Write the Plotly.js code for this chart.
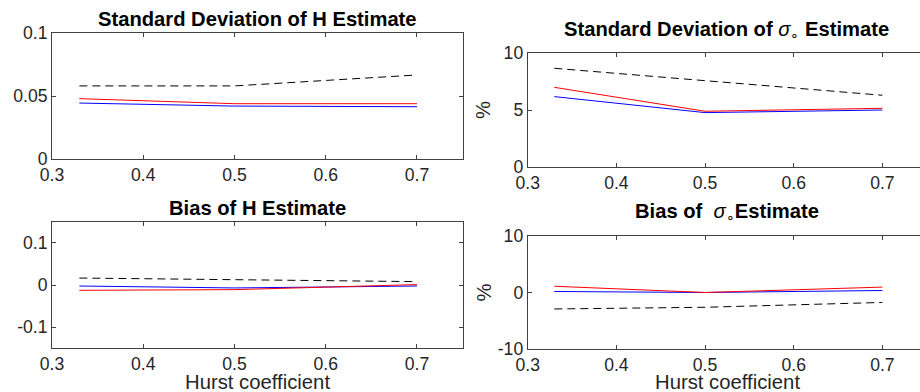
<!DOCTYPE html>
<html><head><meta charset="utf-8">
<script src="https://cdn.plot.ly/plotly-3.0.1.min.js"></script>
<style>html,body{margin:0;padding:0;overflow:hidden;background:#fff}#wrap{width:920px;height:392px;overflow:hidden}#chart{width:930px;height:392px}</style>
</head><body><div id="wrap"><div id="chart"></div></div>
<script>
// Data
const hurst = [0.33, 0.5, 0.7];
const sdH_dashed = [0.058, 0.058, 0.0667];
const sdH_red = [0.0479, 0.0439, 0.0439];
const sdH_blue = [0.0444, 0.0420, 0.0415];
const sdSigma_dashed = [8.68, 7.59, 6.30];
const sdSigma_red = [7.00, 4.89, 5.15];
const sdSigma_blue = [6.18, 4.77, 5.00];
const biasH_dashed = [0.0165, 0.0128, 0.008];
const biasH_red = [-0.0126, -0.011, 0.001];
const biasH_blue = [-0.0024, -0.007, -0.0024];
const biasSigma_dashed = [-2.9, -2.6, -1.75];
const biasSigma_red = [1.1, 0.0, 0.95];
const biasSigma_blue = [0.18, 0.0, 0.35];

const xTickVals = [0.3, 0.4, 0.5, 0.6, 0.7];
const xTickText = ['0.3', '0.4', '0.5', '0.6', '0.7'];
const yTickValsSdH = [0, 0.05, 0.1];
const yTickTextSdH = ['0', '0.05', '0.1'];
const yTickValsSdS = [0, 5, 10];
const yTickTextSdS = ['0', '5', '10'];
const yTickValsBH = [-0.1, 0, 0.1];
const yTickTextBH = ['-0.1', '0', '0.1'];
const yTickValsBS = [-10, 0, 10];
const yTickTextBS = ['-10', '0', '10'];

const W = 930, H = 392;
function dx(a, b) { return [a / W, b / W]; }
function dy(top, bot) { return [1 - bot / H, 1 - top / H]; }

function series(xa, ya, dashed, red, blue) {
  return [
    {x: hurst, y: dashed, xaxis: xa, yaxis: ya, mode: 'lines', line: {color: '#000', width: 1, dash: '8px,5px'}, hoverinfo: 'skip'},
    {x: hurst, y: blue, xaxis: xa, yaxis: ya, mode: 'lines', line: {color: '#0000ff', width: 1}, hoverinfo: 'skip'},
    {x: hurst, y: red, xaxis: xa, yaxis: ya, mode: 'lines', line: {color: '#ff0000', width: 1}, hoverinfo: 'skip'}
  ];
}

const data = [].concat(
  series('x', 'y', sdH_dashed, sdH_red, sdH_blue),
  series('x2', 'y2', sdSigma_dashed, sdSigma_red, sdSigma_blue),
  series('x3', 'y3', biasH_dashed, biasH_red, biasH_blue),
  series('x4', 'y4', biasSigma_dashed, biasSigma_red, biasSigma_blue)
);

const tickFont = {family: 'Liberation Sans, Arial, sans-serif', size: 17.6, color: '#262626'};
function xax(domain, anchor) {
  return {domain: domain, anchor: anchor, range: [0.3, 0.75], tickmode: 'array', tickvals: xTickVals, ticktext: xTickText,
    ticks: 'inside', ticklen: 4, tickcolor: '#404040', showline: true, linecolor: '#404040', linewidth: 1, mirror: 'allticks',
    showgrid: false, zeroline: false, tickfont: tickFont, fixedrange: true};
}
function yax(domain, anchor, range, vals, text) {
  return {domain: domain, anchor: anchor, range: range, tickmode: 'array', tickvals: vals, ticktext: text,
    ticks: 'inside', ticklen: 4, tickcolor: '#404040', showline: true, linecolor: '#404040', linewidth: 1, mirror: 'allticks',
    showgrid: false, zeroline: false, tickfont: tickFont, fixedrange: true};
}

const XL = dx(52, 462.6), XR = dx(527.7, 926.7);
const titleFont = {family: 'Liberation Sans, Arial, sans-serif', size: 20.2, color: '#000'};
const labFont = {family: 'Liberation Sans, Arial, sans-serif', size: 20.3, color: '#262626'};
function ann(text, px, py, font, extra) {
  return Object.assign({text: text, xref: 'paper', yref: 'paper', x: px / W, y: 1 - py / H, xanchor: 'center', yanchor: 'middle', showarrow: false, font: font}, extra || {});
}

const layout = {
  width: W, height: H, margin: {l: 0, r: 0, t: 0, b: 0}, paper_bgcolor: '#fff', plot_bgcolor: '#fff', showlegend: false,
  xaxis: xax(XL, 'y'), yaxis: yax(dy(33, 159), 'x', [0, 0.1], yTickValsSdH, yTickTextSdH),
  xaxis2: xax(XR, 'y2'), yaxis2: yax(dy(53.3, 166.7), 'x2', [0, 10], yTickValsSdS, yTickTextSdS),
  xaxis3: xax(XL, 'y3'), yaxis3: yax(dy(221.7, 348.3), 'x3', [-0.15, 0.15], yTickValsBH, yTickTextBH),
  xaxis4: xax(XR, 'y4'), yaxis4: yax(dy(235.7, 349.3), 'x4', [-10, 10], yTickValsBS, yTickTextBS),
  annotations: [
    ann('<b>Standard Deviation of H Estimate</b>', 257.5, 18.5, titleFont),
    ann('<b>Standard Deviation of</b> <i>σ</i><sub>∘</sub> <b>Estimate</b>', 726.5, 30, titleFont),
    ann('<b>Bias of H Estimate</b>', 257.5, 208, titleFont),
    ann('<b>Bias of</b>\u00a0\u00a0<i>σ</i><sub>∘</sub><b>Estimate</b>', 726.5, 212, titleFont),
    ann('Hurst coefficient', 257.5, 381.5, labFont),
    ann('Hurst coefficient', 727, 381.5, labFont),
    ann('%', 483, 110, labFont, {textangle: -90}),
    ann('%', 483, 292.5, labFont, {textangle: -90})
  ]
};

Plotly.newPlot('chart', data, layout, {staticPlot: true, displayModeBar: false});
</script>
</body></html>
